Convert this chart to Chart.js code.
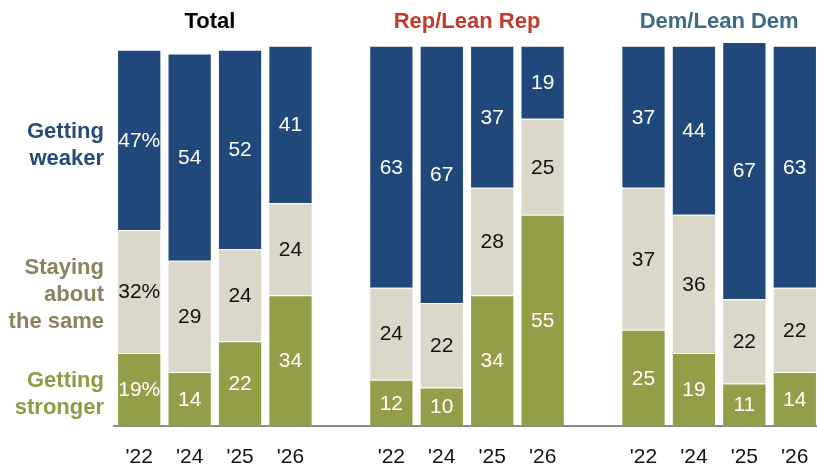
<!DOCTYPE html>
<html>
<head>
<meta charset="utf-8">
<script src="https://cdn.jsdelivr.net/npm/chart.js@4"></script>
<style>
  html, body { margin: 0; padding: 0; background: #fff; overflow: hidden; }
  #wrap { position: relative; width: 830px; height: 504px; }
</style>
</head>
<body>
<div id="wrap"><canvas id="chart" width="830" height="504"></canvas></div>
<script>
"use strict";

// one blank slot between each panel
const YEARS = ["'22", "'24", "'25", "'26", "", "'22", "'24", "'25", "'26", "", "'22", "'24", "'25", "'26"];
const PANELS = ["Total", "Rep/Lean Rep", "Dem/Lean Dem"];
const STRONGER = [19, 14, 22, 34, null, 12, 10, 34, 55, null, 25, 19, 11, 14];
const SAME = [32, 29, 24, 24, null, 24, 22, 28, 25, null, 37, 36, 22, 22];
const WEAKER = [47, 54, 52, 41, null, 63, 67, 37, 19, null, 37, 44, 67, 63];

const BLUE = "#21487a";
const BEIGE = "#dbd8c9";
const OLIVE = "#949d48";
const FONT = "'Liberation Sans', Arial, sans-serif";

const PANEL_COLOURS = ["#000000", "#c23b2c", "#3e6a89"];
const ROW_LABELS = [
  { lines: ["Getting", "weaker"], color: "#274b7c", y: [132, 159] },
  { lines: ["Staying", "about", "the same"], color: "#8c8260", y: [268, 295, 322] },
  { lines: ["Getting", "stronger"], color: "#8f9a45", y: [381, 408] },
];

// ---- plugins -------------------------------------------------------------

const valueLabels = {
  id: "valueLabels",
  afterDatasetsDraw(chart) {
    const ctx = chart.ctx;
    ctx.save();
    ctx.font = `21px ${FONT}`;
    ctx.textAlign = "center";
    ctx.textBaseline = "middle";
    chart.data.datasets.forEach((ds, di) => {
      const meta = chart.getDatasetMeta(di);
      meta.data.forEach((bar, i) => {
        const v = ds.data[i];
        if (v == null) return;
        const text = i === 0 ? `${v}%` : String(v);
        ctx.fillStyle = ds.labelColor;
        ctx.fillText(text, bar.x, (bar.y + bar.base) / 2 + 1);
      });
    });
    ctx.restore();
  },
};

const panelText = {
  id: "panelText",
  afterDraw(chart) {
    const ctx = chart.ctx;
    const x = chart.scales.x;
    ctx.save();
    ctx.font = `bold 22px ${FONT}`;
    ctx.textAlign = "center";
    ctx.textBaseline = "middle";
    PANELS.forEach((name, p) => {
      const first = x.getPixelForValue(p * 5);
      const last = x.getPixelForValue(p * 5 + 3);
      ctx.fillStyle = PANEL_COLOURS[p];
      ctx.fillText(name, (first + last) / 2 - (p === 0 ? 5 : 0), 22);
    });

    ctx.font = `bold 22px ${FONT}`;
    ctx.textAlign = "right";
    for (const row of ROW_LABELS) {
      ctx.fillStyle = row.color;
      row.lines.forEach((line, k) => ctx.fillText(line, chart.chartArea.left - 10, row.y[k]));
    }
    ctx.restore();
  },
};

// ---- chart ---------------------------------------------------------------

const barStyle = {
  barPercentage: 0.878,
  categoryPercentage: 1,
  borderWidth: 1,
  borderColor: "rgba(255,255,255,0.35)",
};

new Chart(document.getElementById("chart"), {
  type: "bar",
  data: {
    labels: YEARS,
    datasets: [
      { label: "Getting stronger", data: STRONGER, backgroundColor: OLIVE, labelColor: "#ffffff", ...barStyle },
      { label: "Staying about the same", data: SAME, backgroundColor: BEIGE, labelColor: "#111111", ...barStyle },
      { label: "Getting weaker", data: WEAKER, backgroundColor: BLUE, labelColor: "#ffffff", ...barStyle },
    ],
  },
  options: {
    responsive: false,
    animation: false,
    layout: { padding: { top: 42, left: 114, right: 10, bottom: 23 } },
    plugins: { legend: { display: false }, tooltip: { enabled: false } },
    scales: {
      x: {
        stacked: true,
        grid: { display: false },
        border: { display: true, color: "#8c8c8c", width: 2 },
        ticks: { color: "#111111", font: { family: FONT, size: 21 }, padding: 11, autoSkip: false, maxRotation: 0 },
      },
      y: { stacked: true, min: 0, max: 100, display: false },
    },
  },
  plugins: [valueLabels, panelText],
});
</script>
</body>
</html>
